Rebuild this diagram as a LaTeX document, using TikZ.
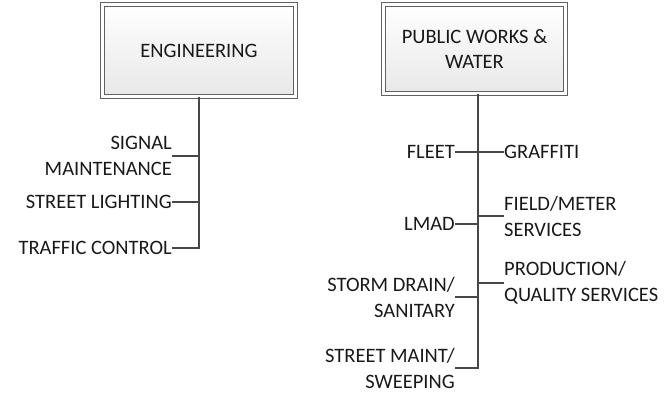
\documentclass[tikz,border=0pt]{standalone}
\usepackage{fontspec}
\setmainfont{Carlito}
\usetikzlibrary{shadows}
\begin{document}
\begin{tikzpicture}[x=1pt,y=-1pt,
  topbox/.style={draw=black!62, double=white, double distance=2.6pt, line width=1pt,
    top color=white, bottom color=black!9, minimum width=#1, align=center,
    drop shadow={shadow xshift=2.5pt, shadow yshift=-2.5pt, fill=black!45, opacity=0.6},
    font=\fontsize{20.5}{25}\selectfont, text=black!90},
  lbl/.style={font=\fontsize{20.5}{26}\selectfont, text=black!90, inner sep=0pt},
  lleft/.style={lbl, anchor=east, align=right},
  lright/.style={lbl, anchor=west, align=left},
  conn/.style={draw=black!72, line width=1.6pt}]
\useasboundingbox (0,0) rectangle (666,394);

% Engineering
\node[topbox=193pt, minimum height=92pt] (eng) at (199,50.5) {ENGINEERING};
\node[lleft] (sig) at (172,156) {SIGNAL\\MAINTENANCE};
\node[lleft] (sl) at (172,202) {STREET LIGHTING};
\node[lleft] (tc) at (172,248) {TRAFFIC CONTROL};
\coordinate (espine) at (199,248);

\draw[conn] (eng.south -| espine) -- (espine) -- (tc.east);
\draw[conn] (sig.east) -- (sig.east -| espine);
\draw[conn] (sl.east) -- (sl.east -| espine);

% Public works
\node[topbox=182pt, minimum height=89pt] (pw) at (474.5,49) {PUBLIC WORKS \&\\WATER};
\coordinate (pspine) at (478,368);
\node[lleft] (fleet) at (455,152) {FLEET};
\node[lright] (graf) at (504,152) {GRAFFITI};
\node[lright] (field) at (504,216) {FIELD/METER\\SERVICES};
\node[lleft] (lmad) at (455,224) {LMAD};
\node[lright] (prod) at (504,283) {PRODUCTION/\\QUALITY SERVICES};
\node[lleft] (storm) at (455,297) {STORM DRAIN/\\SANITARY};
\node[lleft] (smaint) at (455,368) {STREET MAINT/\\SWEEPING};

\draw[conn] (pw.south -| pspine) -- (pspine) -- (smaint.east);
\draw[conn] (fleet.east) -- (fleet.east -| pspine);
\draw[conn] (graf.west) -- (graf.west -| pspine);
\draw[conn] (field.west) -- (field.west -| pspine);
\draw[conn] (lmad.east) -- (lmad.east -| pspine);
\draw[conn] (prod.west) -- (prod.west -| pspine);
\draw[conn] (storm.east) -- (storm.east -| pspine);
\end{tikzpicture}
\end{document}
